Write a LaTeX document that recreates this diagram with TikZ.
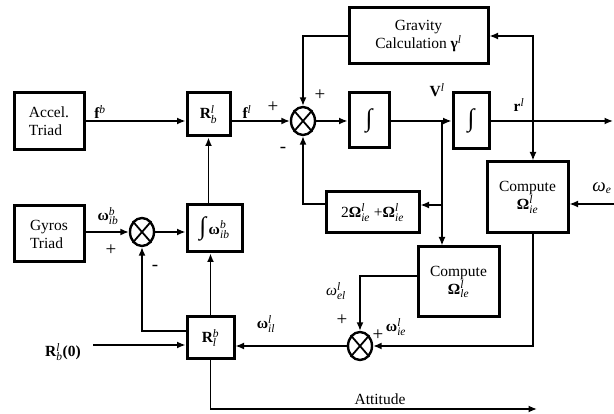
\documentclass[tikz,border=0pt]{standalone}
\usepackage{fontspec}
\setmainfont{Liberation Serif}
\usetikzlibrary{arrows.meta,shapes.geometric,calc}
\newcommand\ix[1]{\mbox{\fontsize{11.5}{11.5}\selectfont\itshape #1}}
\newcommand\bw{\mbox{\bfseries ω}}
\newcommand\bO{\mbox{\bfseries Ω}}
\newcommand\intg{\mbox{\fontsize{25}{25}\selectfont ∫}}
\begin{document}
\begin{tikzpicture}[x=1pt,y=-1pt,
  every node/.style={font=\fontsize{15.5}{18}\selectfont},
  blk/.style={draw,line width=3pt,inner sep=0pt,align=center},
  sumnode/.style={draw,ellipse,line width=2.4pt,minimum width=24pt,minimum height=28pt,inner sep=0pt},
  conn/.style={line width=1.5pt},
  arr/.style={conn,-{Latex[length=8.5pt,width=7pt]}},
  lbl/.style={inner sep=0pt},
  sgn/.style={inner sep=0pt,font=\fontsize{19}{19}\selectfont}]
\useasboundingbox (0,0) rectangle (614,414);
% blocks
\node[blk,minimum width=70pt,minimum height=57pt,align=left] (accel) at (49,121.5) {Accel.\\Triad};
\node[blk,minimum width=43pt,minimum height=43pt] (Rbl) at (208.5,114.5) {$\mathbf{R}_{\ix{b}}^{\ix{l}}$};
\node[sumnode] (sum1) at (303,121) {};
\node[blk,minimum width=139pt,minimum height=56pt] (grav) at (418.5,36) {Gravity\\Calculation $\mbox{\bfseries γ}^{\ix{l}}$};
\node[blk,minimum width=40pt,minimum height=55pt] (int1) at (369,120.5) {\intg};
\node[blk,minimum width=36pt,minimum height=56pt] (int2) at (471,121) {\intg};
\node[blk,minimum width=81pt,minimum height=71pt] (compR) at (527.5,197.5) {Compute\\$\bO_{\ix{ie}}^{\ix{l}}$};
\node[blk,minimum width=93pt,minimum height=41pt] (two) at (372.5,212.5) {$\mbox{2}\bO_{\ix{ie}}^{\ix{l}}\mbox{ +}\bO_{\ix{ie}}^{\ix{l}}$};
\node[blk,minimum width=81pt,minimum height=70pt] (compM) at (458.5,282) {Compute\\$\bO_{\ix{le}}^{\ix{l}}$};
\node[sumnode] (sum3) at (360,346) {};
\node[blk,minimum width=70pt,minimum height=56pt,align=left] (gyro) at (49,234) {Gyros\\Triad};
\node[sumnode] (sum2) at (142,232) {};
\node[blk,minimum width=55pt,minimum height=47pt] (intw) at (214.5,228.5) {$\intg\,\bw_{\ix{ib}}^{\ix{b}}$};
\node[blk,minimum width=47pt,minimum height=42pt] (Rlb) at (210.5,338) {$\mathbf{R}_{\ix{l}}^{\ix{b}}$};
% crosses in summing junctions
\foreach \s in {sum1,sum2,sum3}{
  \draw[line width=1.8pt] (\s.north west) -- (\s.south east);
  \draw[line width=1.8pt] (\s.north east) -- (\s.south west);
}
% coordinates
\coordinate (outr) at (613,121);
\coordinate (tapr) at (533,121);
\coordinate (tapv) at (442,121);
\coordinate (we) at (614,204);
\coordinate (r0) at (93,345);
\coordinate (att) at (537,409);
% connectors
\draw[arr] (accel.east |- sum1) -- (Rbl.west |- sum1);
\draw[arr] (Rbl.east |- sum1) -- (sum1.west);
\draw[arr] (grav.west) -| (sum1.north);
\draw[arr] (sum1.east) -- (int1.west |- sum1);
\draw[conn] (int1.east |- sum1) -- (tapv);
\draw[arr] (tapv) -- (int2.west |- sum1);
\draw[arr] (int2.east |- sum1) -- (outr);
\draw[arr] (tapr) |- (grav.east);
\draw[arr] (tapr) -- (tapr |- compR.north);
\draw[arr] (tapv) -- (tapv |- compM.north);
\draw[arr] (tapv |- 0,205) -- (two.east |- 0,205);
\draw[arr] (two.west |- 0,204) -| (sum1.south);
\draw[arr] (we) -- (compR.east |- we);
\draw[arr] (tapr |- compR.south) |- (sum3.east);
\draw[arr] (compM.west |- 0,276) -| (sum3.north);
\draw[arr] (sum3.west) -- (Rlb.east |- sum3);
\draw[arr] (r0) -- (Rlb.west |- r0);
\draw[arr] (Rlb.north) -- (intw.south -| Rlb.north);
\draw[arr] (intw.north -| Rbl.south) -- (Rbl.south);
\draw[arr] (Rlb.west |- 0,331) -| (sum2.south);
\draw[arr] (gyro.east |- sum2) -- (sum2.west);
\draw[arr] (sum2.east) -- (intw.west |- sum2);
\draw[arr] (Rlb.south) |- (att);
% labels
\node[lbl] (lfb) at (100,112) {$\mathbf{f}^{\ix{b}}$};
\node[lbl] (lfl) at (247,112) {$\mathbf{f}^{\ix{l}}$};
\node[sgn] (p1) at (273,107) {+};
\node[sgn] (p2) at (320,95) {+};
\node[sgn] (m1) at (283,150) {-};
\node[lbl] (lV) at (437,90) {$\mathbf{V}^{\ix{l}}$};
\node[lbl] (lr) at (519,105) {$\mathbf{r}^{\ix{l}}$};
\node[lbl,font=\fontsize{19}{19}\selectfont] (lwe) at (602,188) {$\mbox{\itshape ω}_{\ix{e}}$};
\node[lbl] (lwel) at (336,291) {$\mbox{\itshape ω}_{\ix{el}}^{\ix{l}}$};
\node[sgn] (p3) at (342,320) {+};
\node[sgn] (p4) at (378,335) {+};
\node[lbl] (lwie) at (396,327) {$\bw_{\ix{ie}}^{\ix{l}}$};
\node[lbl] (latt) at (380,399) {Attitude};
\node[lbl] (lwib) at (108,216) {$\bw_{\ix{ib}}^{\ix{b}}$};
\node[sgn] (p5) at (111,250) {+};
\node[sgn] (m2) at (155,268) {-};
\node[lbl] (lr0) at (63,352) {$\mathbf{R}_{\ix{b}}^{\ix{l}}\mbox{\bfseries (0)}$};
\node[lbl] (lwil) at (266,324) {$\bw_{\ix{il}}^{\ix{l}}$};
\end{tikzpicture}
\end{document}
